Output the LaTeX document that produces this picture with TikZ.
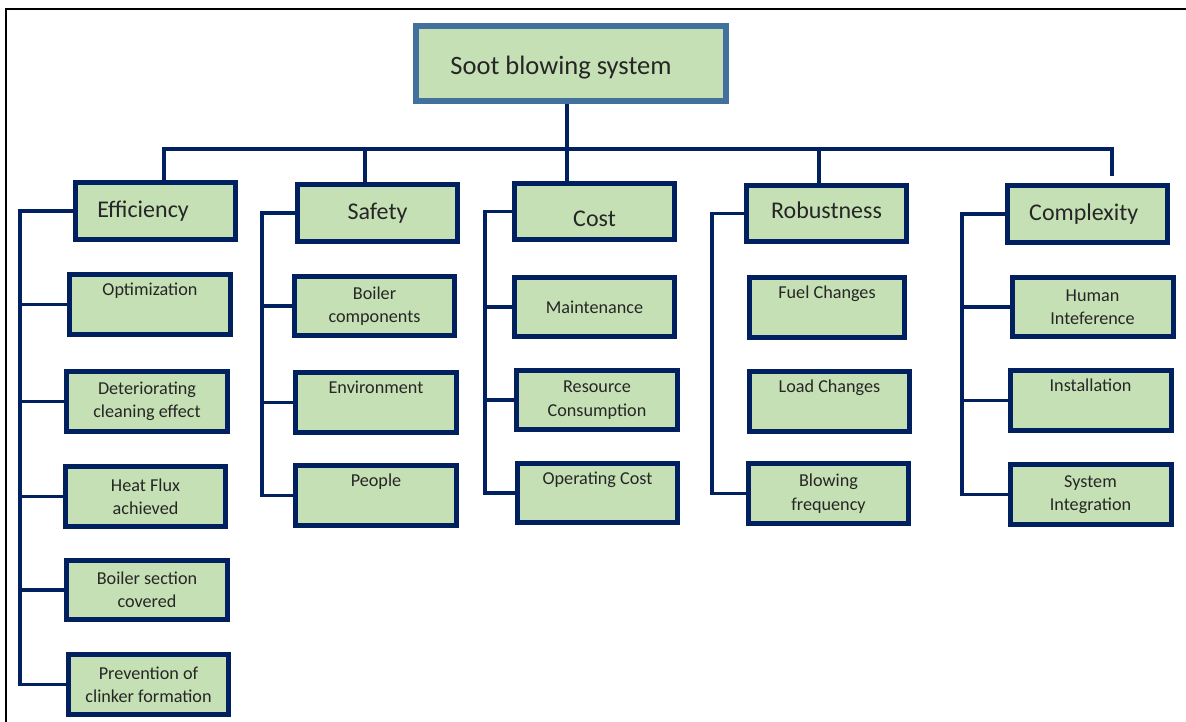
\documentclass[tikz,border=0pt]{standalone}
\usepackage{fontspec}
\setmainfont{Carlito}
\usepackage{xcolor}
\usepackage{tikz}

\definecolor{boxfill}{HTML}{C5E0B4}
\definecolor{navy}{HTML}{002060}
\definecolor{rootblue}{HTML}{41719C}
\definecolor{ink}{HTML}{262626}

\begin{document}
\begin{tikzpicture}[x=0.02cm, y=-0.02cm,
    root/.style={rectangle, draw=rootblue, line width=0.12cm, fill=boxfill, minimum width=6.2cm, minimum height=1.5cm, inner sep=0pt, text=ink, font=\fontsize{15.1pt}{18pt}\selectfont},
    crit/.style={rectangle, draw=navy, line width=0.1cm, fill=boxfill, minimum width=3.2cm, minimum height=1.14cm, inner sep=0pt, text=ink, font=\fontsize{13.65pt}{16pt}\selectfont},
    item/.style={rectangle, draw=navy, line width=0.1cm, fill=boxfill, minimum width=3.22cm, minimum height=1.2cm, inner sep=0pt, align=center, text=ink, font=\fontsize{10.35pt}{13.3pt}\selectfont},
    link/.style={draw=navy, line width=0.07cm},
    frame/.style={draw=black, line width=0.045cm}
  ]
    \useasboundingbox (0,0) rectangle (1186,722);
    \draw [frame] (6,722) -- (6,9) -- (1186,9);

    % Nodes
    \node (root) [root] at (571,63.5) {\raisebox{-0.09cm}[\height][\depth]{Soot blowing system}\hspace{0.4cm}\null};

    \node (eff) [crit] at (155.5,211) {Efficiency\hspace{0.5cm}\null};
    \node (saf) [crit] at (377.5,213) {Safety};
    \node (cost) [crit] at (594.5,211.5) {\raisebox{-0.15cm}[\height][\depth]{Cost}};
    \node (rob) [crit] at (826.5,213.5) {\raisebox{0.07cm}[\height][\depth]{Robustness}};
    \node (cplx) [crit] at (1087.5,214) {Complexity\hspace{0.15cm}\null};

    % Efficiency items
    \node (opt) [item] at (150,304.5) {Optimization\\\strut};
    \node (det) [item] at (147,401.5) {Deteriorating\\cleaning effect};
    \node (heat) [item] at (145.5,496.5) {Heat Flux\\achieved};
    \node (boil) [item] at (147,590) {Boiler section\\covered};
    \node (prev) [item] at (148.5,684.5) {Prevention of\\clinker formation};

    % Safety items
    \node (comp) [item] at (374.5,306) {Boiler\\components};
    \node (env) [item] at (376,402.5) {Environment\\\strut};
    \node (ppl) [item] at (376,495.5) {People\\\strut};

    % Cost items
    \node (mnt) [item] at (594.5,307) {Maintenance};
    \node (res) [item] at (597,400) {Resource\\Consumption};
    \node (opc) [item] at (597.5,493) {Operating Cost\\\strut};

    % Robustness items
    \node (fuel) [item, minimum width=3.1cm] at (827,307.5) {Fuel Changes\\\strut};
    \node (load) [item] at (829.5,401.5) {Load Changes\\\strut};
    \node (blow) [item] at (828.5,493.5) {Blowing\\frequency};

    % Complexity items
    \node (hum) [item] at (1092.5,307) {Human\\Inteference};
    \node (inst) [item] at (1090.5,400.5) {Installation\\\strut};
    \node (sys) [item] at (1090.5,494.5) {System\\Integration};

    % Bus points and spines
    \coordinate (dE) at (164,149);
    \coordinate (dS) at (365,149);
    \coordinate (dC) at (567,149);
    \coordinate (dR) at (819,149);
    \coordinate (dX) at (1112,149);
    \coordinate (spE) at (20,0);
    \coordinate (spS) at (262,0);
    \coordinate (spC) at (485,0);
    \coordinate (spR) at (712,0);
    \coordinate (spX) at (962,0);

    % Connections
    \draw [link] (root.south -| dC) -- (dC |- cost.north);
    \draw [link, shorten >=0.15cm] (eff.north -| dE) -- (dE) -- (dX) -- (dX |- cplx.north);
    \draw [link] (dS) -- (dS |- saf.north);
    \draw [link] (dR) -- (dR |- rob.north);

    \draw [link] (eff.west) -| (spE |- prev.west) -- (prev.west);
    \draw [link] (spE |- opt.west) -- (opt.west);
    \draw [link] (spE |- det.west) -- (det.west);
    \draw [link] (spE |- heat.west) -- (heat.west);
    \draw [link] (spE |- boil.west) -- (boil.west);

    \draw [link] (saf.west) -| (spS |- ppl.west) -- (ppl.west);
    \draw [link] (spS |- comp.west) -- (comp.west);
    \draw [link] (spS |- env.west) -- (env.west);

    \draw [link] (cost.west) -| (spC |- opc.west) -- (opc.west);
    \draw [link] (spC |- mnt.west) -- (mnt.west);
    \draw [link] (spC |- res.west) -- (res.west);

    \draw [link] (rob.west) -| (spR |- blow.west) -- (blow.west);

    \draw [link] (cplx.west) -| (spX |- sys.west) -- (sys.west);
    \draw [link] (spX |- hum.west) -- (hum.west);
    \draw [link] (spX |- inst.west) -- (inst.west);

  \end{tikzpicture}
\end{document}
